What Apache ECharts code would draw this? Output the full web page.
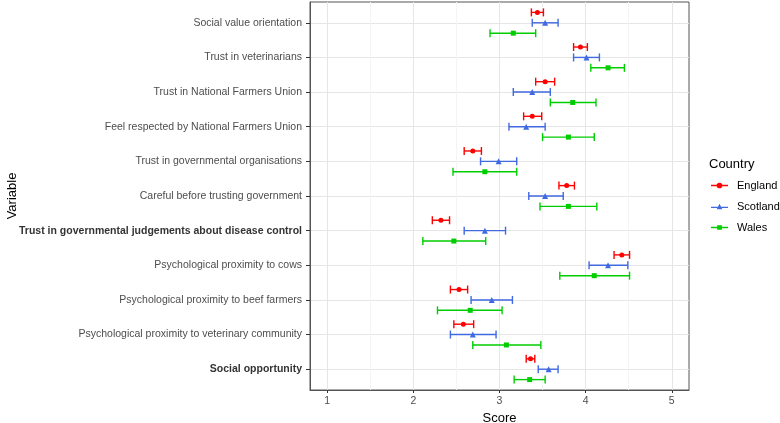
<!DOCTYPE html>
<html>
<head>
<meta charset="utf-8">
<script src="https://cdn.jsdelivr.net/npm/echarts@6/dist/echarts.min.js"></script>
<style>
  html, body { margin: 0; padding: 0; background: #fff; }
  #main { width: 780px; height: 423px; }
</style>
</head>
<body>
<div id="main"></div>
<script>
// variables, top to bottom
const variables = [
  'Social value orientation',
  'Trust in veterinarians',
  'Trust in National Farmers Union',
  'Feel respected by National Farmers Union',
  'Trust in governmental organisations',
  'Careful before trusting government',
  'Trust in governmental judgements about disease control',
  'Psychological proximity to cows',
  'Psychological proximity to beef farmers',
  'Psychological proximity to veterinary community',
  'Social opportunity'
];
const boldVariables = [
  'Trust in governmental judgements about disease control',
  'Social opportunity'
];

// means and interval ends per country
const englandMean = [3.44, 3.94, 3.53, 3.38, 2.69, 3.78, 2.32, 4.42, 2.53, 2.58, 3.36];
const englandLow  = [3.37, 3.86, 3.42, 3.28, 2.59, 3.69, 2.22, 4.33, 2.43, 2.47, 3.31];
const englandHigh = [3.51, 4.02, 3.64, 3.49, 2.79, 3.87, 2.42, 4.51, 2.63, 2.70, 3.41];

const scotlandMean = [3.53, 4.01, 3.38, 3.31, 2.99, 3.53, 2.83, 4.26, 2.91, 2.69, 3.57];
const scotlandLow  = [3.38, 3.86, 3.16, 3.11, 2.78, 3.34, 2.59, 4.04, 2.67, 2.43, 3.45];
const scotlandHigh = [3.68, 4.16, 3.59, 3.53, 3.20, 3.74, 3.07, 4.49, 3.15, 2.96, 3.68];

const walesMean = [3.16, 4.26, 3.85, 3.80, 2.83, 3.80, 2.47, 4.10, 2.66, 3.08, 3.35];
const walesLow  = [2.89, 4.06, 3.59, 3.50, 2.46, 3.47, 2.11, 3.70, 2.28, 2.69, 3.17];
const walesHigh = [3.42, 4.45, 4.12, 4.10, 3.20, 4.13, 2.84, 4.51, 3.03, 3.48, 3.53];

const xTicks = [1, 2, 3, 4, 5];
const xMinorTicks = [1.5, 2.5, 3.5, 4.5];
const yTicks = variables.map((v, i) => i);

const countries = [
  { name: 'England', color: '#FF0000', symbol: 'circle', size: 5, dodge: -0.3,
    mean: englandMean, low: englandLow, high: englandHigh,
    icon: 'path://M0,2.3H6.5V3.7H0Z M11.5,2.3H18V3.7H11.5Z M6,3A3,3 0 1,1 12,3A3,3 0 1,1 6,3Z' },
  { name: 'Scotland', color: '#4169E1', symbol: 'triangle', size: 6, dodge: 0,
    mean: scotlandMean, low: scotlandLow, high: scotlandHigh,
    icon: 'path://M0,3.3H7V4.7H0Z M11,3.3H18V4.7H11Z M9,0L12,6L6,6Z' },
  { name: 'Wales', color: '#00CD00', symbol: 'rect', size: 5, dodge: 0.3,
    mean: walesMean, low: walesLow, high: walesHigh,
    icon: 'path://M0,2.3H7V3.7H0Z M11,2.3H18V3.7H11Z M6.5,0.5H11.5V5.5H6.5Z' }
];

function errorBar(params, api) {
  const y = api.value(2);
  const p0 = api.coord([api.value(0), y]);
  const p1 = api.coord([api.value(1), y]);
  const cap = 4;
  const style = { stroke: api.visual('color'), lineWidth: 1.4 };
  return {
    type: 'group',
    children: [
      { type: 'line', shape: { x1: p0[0], y1: p0[1], x2: p1[0], y2: p1[1] }, style: style },
      { type: 'line', shape: { x1: p0[0], y1: p0[1] - cap, x2: p0[0], y2: p0[1] + cap }, style: style },
      { type: 'line', shape: { x1: p1[0], y1: p1[1] - cap, x2: p1[0], y2: p1[1] + cap }, style: style }
    ]
  };
}

const series = [];
countries.forEach((c) => {
  series.push({
    name: c.name,
    type: 'custom',
    renderItem: errorBar,
    itemStyle: { color: c.color },
    data: variables.map((v, i) => [c.low[i], c.high[i], i + c.dodge]),
    z: 2
  });
  series.push({
    name: c.name,
    type: 'scatter',
    symbol: c.symbol,
    symbolSize: c.size,
    itemStyle: { color: c.color, opacity: 1 },
    data: variables.map((v, i) => [c.mean[i], i + c.dodge]),
    z: 3
  });
});

const chart = echarts.init(document.getElementById('main'), null, { renderer: 'canvas' });
const font = 'Liberation Sans, Arial, sans-serif';

chart.setOption({
  backgroundColor: '#fff',
  animation: false,
  textStyle: { fontFamily: font },
  title: {
    text: 'Country',
    left: 704,
    top: 153,
    textStyle: { fontSize: 13, fontWeight: 'normal', color: '#000', fontFamily: font }
  },
  legend: {
    orient: 'vertical',
    left: 711,
    top: 180,
    padding: 0,
    itemWidth: 17,
    itemHeight: 6,
    itemGap: 10,
    textStyle: { fontSize: 11, color: '#000', fontFamily: font, padding: [0, 0, 0, 4] },
    data: countries.map((c) => ({ name: c.name, icon: c.icon }))
  },
  grid: {
    left: 310, right: 91, top: 2, bottom: 33,
    outerBoundsMode: 'none',
    containLabel: false,
    show: true, borderColor: '#555', borderWidth: 1
  },
  xAxis: [
    {
      type: 'value',
      min: 0.8,
      max: 5.2,
      name: 'Score',
      nameLocation: 'middle',
      nameGap: 20,
      nameTextStyle: { fontSize: 13, color: '#000', fontFamily: font },
      axisLine: { show: true, onZero: false, lineStyle: { color: '#555' } },
      axisTick: { show: true, length: 3, customValues: xTicks, lineStyle: { color: '#333' } },
      axisLabel: { customValues: xTicks, fontSize: 10.5, color: '#4d4d4d', margin: 6 },
      splitLine: { show: true, lineStyle: { color: '#e6e6e6', width: 1 } }
    },
    {
      type: 'value',
      min: 0.8,
      max: 5.2,
      position: 'bottom',
      axisLine: { show: false, onZero: false },
      axisTick: { show: false, customValues: xMinorTicks },
      axisLabel: { show: false, customValues: xMinorTicks },
      splitLine: { show: true, lineStyle: { color: '#f4f4f4', width: 1 } }
    }
  ],
  yAxis: {
    type: 'value',
    inverse: true,
    min: -0.6,
    max: 10.6,
    name: 'Variable',
    nameLocation: 'middle',
    nameGap: 291,
    nameMoveOverlap: false,
    nameRotate: 90,
    nameTextStyle: { fontSize: 13, color: '#000', fontFamily: font },
    axisLine: { show: true, onZero: false, lineStyle: { color: '#555' } },
    axisTick: { show: true, length: 4, customValues: yTicks, lineStyle: { color: '#333' } },
    axisLabel: {
      customValues: yTicks,
      fontSize: 10.5,
      color: '#4d4d4d',
      margin: 8,
      formatter: function (v) {
        const name = variables[Math.round(v)];
        return boldVariables.indexOf(name) >= 0 ? '{b|' + name + '}' : name;
      },
      rich: { b: { fontWeight: 'bold', fontSize: 10.5, color: '#333', fontFamily: font } }
    },
    splitLine: { show: true, lineStyle: { color: '#e6e6e6', width: 1 } }
  },
  series: series
});
</script>
</body>
</html>
